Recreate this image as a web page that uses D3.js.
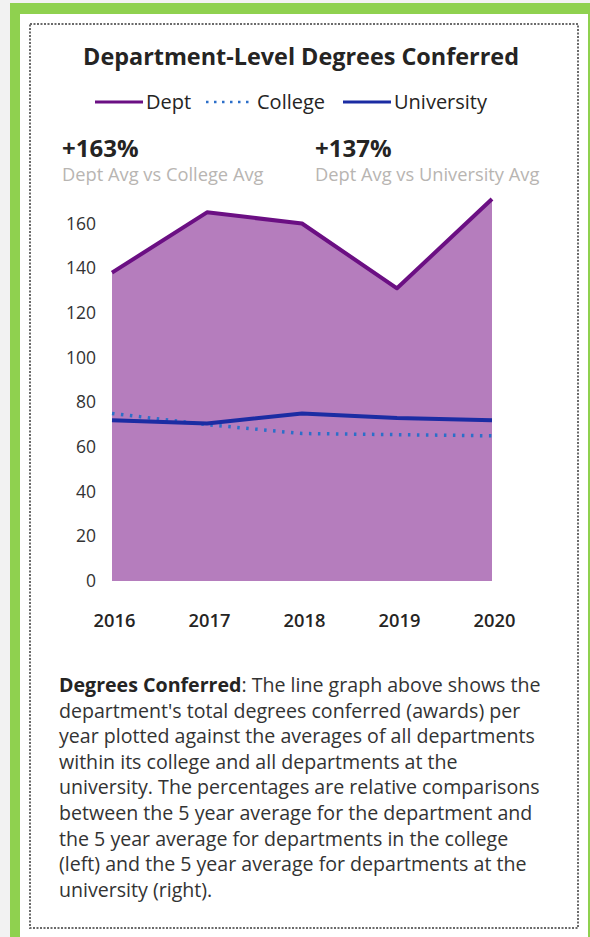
<!DOCTYPE html>
<html>
<head>
<meta charset="utf-8">
<script src="https://cdn.jsdelivr.net/npm/d3@7"></script>
<style>
  body { margin: 0; background: #f2f2f2; }
  svg { display: block; }
</style>
</head>
<body>
<div id="chart"></div>
<script>
// chart data
const years = ["2016", "2017", "2018", "2019", "2020"];
const deptValues = [138, 165, 160, 131, 171];
const collegeValues = [75, 70, 66, 65.5, 65];
const universityValues = [72, 70.5, 75, 73, 72];
const yTicks = [0, 20, 40, 60, 80, 100, 120, 140, 160];
const seriesNames = ["Dept", "College", "University"];
const kpiValues = ["+163%", "+137%"];
const kpiLabels = ["Dept Avg vs College Avg", "Dept Avg vs University Avg"];
const bodyLines = [
    " The line graph above shows the",
    "department's total degrees conferred (awards) per",
    "year plotted against the averages of all departments",
    "within its college and all departments at the",
    "university. The percentages are relative comparisons",
    "between the 5 year average for the department and",
    "the 5 year average for departments in the college",
    "(left) and the 5 year average for departments at the",
    "university (right)."
];

let width = 590, height = 937;
let font = "'Open Sans', 'Noto Sans', sans-serif";

let purple = "#6b0f83", areaFill = "#b57dbd", collegeBlue = "#2c6fc9", uniBlue = "#1b2ca3";

let svg = d3.select("#chart").append("svg")
    .attr("width", width)
    .attr("height", height)
    .style("font-family", font);

// page frame
svg.append("rect").attr("width", width).attr("height", height).attr("fill", "#f2f2f2");
svg.append("rect").attr("x", 10).attr("y", 3).attr("width", 580).attr("height", height).attr("fill", "#8fd14f");
svg.append("rect").attr("x", 20).attr("y", 14).attr("width", 568).attr("height", height).attr("fill", "#ffffff");
svg.append("rect").attr("x", 30).attr("y", 24).attr("width", 548).attr("height", 904)
    .attr("fill", "none").attr("stroke", "#6a6a6a").attr("stroke-width", 2)
    .attr("stroke-dasharray", "2 1.5");

// title
svg.append("text").attr("x", 301).attr("y", 65)
    .attr("text-anchor", "middle").attr("font-size", 23.4).attr("font-weight", 700)
    .attr("fill", "#252423").text("Department-Level Degrees Conferred");

// legend
let legendX = [95, 206, 343];
let legendStyle = [
    {color: purple, dash: null, w: 3},
    {color: collegeBlue, dash: "2.5 5.5", w: 2.5},
    {color: uniBlue, dash: null, w: 3}
];
let legend = svg.selectAll(".legend").data(seriesNames).enter().append("g")
    .attr("class", "legend")
    .attr("transform", (d, i) => "translate(" + legendX[i] + ",102)");
legend.append("line").attr("x1", 0).attr("x2", 48).attr("y1", 0).attr("y2", 0)
    .attr("stroke", (d, i) => legendStyle[i].color)
    .attr("stroke-width", (d, i) => legendStyle[i].w)
    .attr("stroke-dasharray", (d, i) => legendStyle[i].dash);
legend.append("text").attr("x", 51).attr("y", 7).attr("font-size", 20)
    .attr("fill", "#252423").text(d => d);

// KPI cards
let kpiX = [62, 315];
let kpi = svg.selectAll(".kpi").data(kpiValues).enter().append("g")
    .attr("class", "kpi")
    .attr("transform", (d, i) => "translate(" + kpiX[i] + ",0)");
kpi.append("text").attr("y", 157).attr("font-size", 24).attr("font-weight", 700)
    .attr("fill", "#252423").text(d => d);
kpi.append("text").attr("y", 181).attr("font-size", 18.3).attr("fill", "#b8b5b2")
    .text((d, i) => kpiLabels[i]);

// scales
let x = d3.scalePoint().domain(years).range([112, 492]);
let y = d3.scaleLinear().domain([0, 175]).range([581, 190]);

let deptData = years.map((d, i) => ({year: d, value: deptValues[i]}));
let collegeData = years.map((d, i) => ({year: d, value: collegeValues[i]}));
let uniData = years.map((d, i) => ({year: d, value: universityValues[i]}));

// area under dept
let area = d3.area().x(d => x(d.year)).y0(y(0)).y1(d => y(d.value));
let line = d3.line().x(d => x(d.year)).y(d => y(d.value));

svg.append("path").datum(deptData).attr("d", area).attr("fill", areaFill);
svg.append("path").datum(deptData).attr("d", line)
    .attr("fill", "none").attr("stroke", purple).attr("stroke-width", 4)
    .attr("stroke-linejoin", "round");
svg.append("path").datum(collegeData).attr("d", line)
    .attr("fill", "none").attr("stroke", collegeBlue).attr("stroke-width", 3.5)
    .attr("stroke-dasharray", "2.5 6.5");
svg.append("path").datum(uniData).attr("d", line)
    .attr("fill", "none").attr("stroke", uniBlue).attr("stroke-width", 4)
    .attr("stroke-linejoin", "round");

// y axis
let yAxis = d3.axisLeft(y).tickValues(yTicks).tickSize(0).tickPadding(0);
let yg = svg.append("g").attr("transform", "translate(96,0)").call(yAxis);
yg.select(".domain").remove();
yg.selectAll("text").attr("font-size", 17.5).attr("fill", "#333333").attr("font-family", font);

// x axis
let xAxis = d3.axisBottom(x).tickSize(0).tickPadding(0);
let xg = svg.append("g").attr("transform", "translate(2,0)").call(xAxis);
xg.select(".domain").remove();
xg.selectAll("text").attr("y", 627).attr("dy", null).attr("font-size", 18.3).attr("font-weight", 600)
    .attr("fill", "#252423").attr("font-family", font);

// description text
let body = svg.append("g").attr("font-size", 19.6).attr("fill", "#333333");
bodyLines.forEach(function(l, i) {
    let t = body.append("text").attr("x", 59).attr("y", 692 + i * 25.6);
    if (i == 0) {
        t.append("tspan").attr("font-weight", 700).attr("fill", "#252423").text("Degrees Conferred");
        t.append("tspan").text(":" + l);
    } else {
        t.text(l);
    }
});
</script>
</body>
</html>
